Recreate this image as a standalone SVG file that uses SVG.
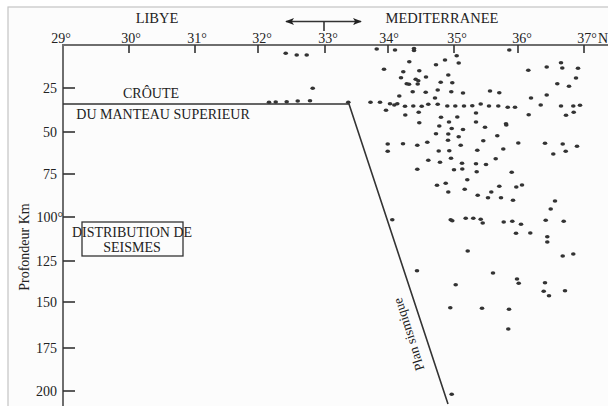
<svg xmlns="http://www.w3.org/2000/svg" xmlns:xlink="http://www.w3.org/1999/xlink" width="608" height="406" viewBox="0 0 608 406">
<style>
text{font-family:"Liberation Serif","Times New Roman",serif;fill:#222}
.t14{font-size:14px}
.t13{font-size:13.5px}
.reg{font-size:14.5px}
.ax{stroke:#6e6e6e;stroke-width:2;fill:none}
.tk{stroke:#333;stroke-width:1.6;fill:none}
.ln{stroke:#333;stroke-width:1.6;fill:none}
.d{fill:#333}
</style>
<defs>
<ellipse id="dot" cx="0" cy="0" rx="2.3" ry="1.8" class="d"/>
<marker id="ah" viewBox="0 0 10 10" refX="9" refY="5" markerWidth="9" markerHeight="9" markerUnits="userSpaceOnUse" orient="auto-start-reverse">
<path d="M0,1 L10,5 L0,9 L2.5,5 Z" fill="#222"/>
</marker>
</defs>
<rect x="0" y="0" width="608" height="406" fill="#fff"/>
<rect x="8" y="7" width="610" height="410" fill="#fcfcfc" stroke="#c4c4c4" stroke-width="1.2"/>

<g id="axes">
<line class="ax" x1="63" y1="45" x2="608" y2="45"/>
<line class="ax" x1="63" y1="44" x2="63" y2="406"/>
<g class="tk">
<line x1="129" y1="45" x2="129" y2="53"/><line x1="195" y1="45" x2="195" y2="53"/>
<line x1="258" y1="45" x2="258" y2="53"/><line x1="325" y1="45" x2="325" y2="53"/>
<line x1="388" y1="45" x2="388" y2="53"/><line x1="454" y1="45" x2="454" y2="53"/>
<line x1="518" y1="45" x2="518" y2="53"/><line x1="584" y1="45" x2="584" y2="53"/>
<line x1="63" y1="88" x2="75" y2="88"/><line x1="63" y1="132" x2="75" y2="132"/>
<line x1="63" y1="174" x2="75" y2="174"/><line x1="63" y1="217" x2="75" y2="217"/>
<line x1="63" y1="261" x2="75" y2="261"/><line x1="63" y1="302" x2="75" y2="302"/>
<line x1="63" y1="348" x2="75" y2="348"/><line x1="63" y1="391" x2="75" y2="391"/>
</g>
<g class="t14" text-anchor="middle">
<text x="61" y="43">29°</text><text x="131" y="43">30°</text><text x="197" y="43">31°</text>
<text x="262" y="43">32°</text><text x="328" y="43">33°</text><text x="389" y="43">34°</text>
<text x="457" y="43">35°</text><text x="522" y="43">36°</text><text x="587" y="43">37°</text>
<text x="603" y="43">N</text>
</g>
<g class="t14" text-anchor="end">
<text x="57" y="93">25</text><text x="57" y="137">50</text><text x="57" y="179">75</text>
<text x="63" y="222">100°</text><text x="57" y="266">125</text><text x="57" y="307">150</text>
<text x="57" y="353">175</text><text x="57" y="396">200</text>
</g>
<text class="t14" text-anchor="middle" transform="translate(29,247) rotate(-90)">Profondeur Km</text>
</g>

<g id="regions">
<text class="reg" x="157" y="23" text-anchor="middle">LIBYE</text>
<text class="reg" x="442" y="23" text-anchor="middle">MEDITERRANEE</text>
<g id="arrow">
<line class="ln" x1="286" y1="21.5" x2="361" y2="21.5" marker-start="url(#ah)" marker-end="url(#ah)"/>
<line class="ln" x1="324" y1="21.5" x2="324" y2="31"/>
</g>
</g>

<g id="crust">
<polyline class="ln" points="63,104 349,104 448,404"/>
<text class="t14" x="151" y="98" text-anchor="middle">CRÔUTE</text>
<text class="t14" x="163" y="119" text-anchor="middle">DU MANTEAU SUPERIEUR</text>
</g>

<g id="plan">
<text class="t13" text-anchor="middle" transform="translate(413,333) rotate(-107.8)">Plan sismique</text>
</g>

<g id="legend">
<rect x="82" y="222" width="101" height="34" fill="none" stroke="#333" stroke-width="1.3"/>
<text class="t14" x="132" y="237" text-anchor="middle">DISTRIBUTION DE</text>
<text class="t14" x="132" y="252" text-anchor="middle">SEISMES</text>
</g>

<g id="seismes">
<use href="#dot" x="285.7" y="53.3"/><use href="#dot" x="296.7" y="55"/><use href="#dot" x="306.7" y="55"/>
<use href="#dot" x="312.7" y="88.3"/><use href="#dot" x="269" y="102.3"/><use href="#dot" x="275.7" y="102"/>
<use href="#dot" x="286.7" y="101.7"/><use href="#dot" x="297.7" y="101"/><use href="#dot" x="310" y="100.7"/>
<use href="#dot" x="348.3" y="102.3"/>
<use href="#dot" x="376.7" y="49"/><use href="#dot" x="395" y="50"/><use href="#dot" x="414" y="48.5"/><use href="#dot" x="414" y="50.5"/>
<use href="#dot" x="456.7" y="55.7"/><use href="#dot" x="409.3" y="61.7"/><use href="#dot" x="445" y="60"/>
<use href="#dot" x="436" y="64.7"/><use href="#dot" x="458.7" y="63"/><use href="#dot" x="384" y="69.3"/>
<use href="#dot" x="403.3" y="71.7"/><use href="#dot" x="419.3" y="70.7"/><use href="#dot" x="448.3" y="75"/>
<use href="#dot" x="426" y="77"/><use href="#dot" x="401" y="77.7"/><use href="#dot" x="415.7" y="79.3"/>
<use href="#dot" x="418.3" y="80.7"/><use href="#dot" x="406.7" y="83.7"/><use href="#dot" x="409" y="84.3"/>
<use href="#dot" x="417.7" y="84"/><use href="#dot" x="440.7" y="82.3"/><use href="#dot" x="452.3" y="82.7"/>
<use href="#dot" x="412.7" y="91.7"/><use href="#dot" x="425.7" y="92.3"/><use href="#dot" x="437.7" y="90"/>
<use href="#dot" x="451.3" y="91.7"/><use href="#dot" x="463" y="93"/><use href="#dot" x="490" y="91"/>
<use href="#dot" x="399.3" y="96"/><use href="#dot" x="435" y="98"/>
<use href="#dot" x="370.5" y="102.3"/><use href="#dot" x="380" y="102.3"/><use href="#dot" x="390" y="103.7"/>
<use href="#dot" x="394.3" y="105"/><use href="#dot" x="397.3" y="103.7"/><use href="#dot" x="405" y="106.3"/>
<use href="#dot" x="413.3" y="106"/><use href="#dot" x="421.7" y="106.3"/><use href="#dot" x="428.3" y="104.3"/>
<use href="#dot" x="437.7" y="104.3"/><use href="#dot" x="447.3" y="106"/><use href="#dot" x="455.3" y="106"/>
<use href="#dot" x="464" y="106"/><use href="#dot" x="472.3" y="105.7"/><use href="#dot" x="480.7" y="104"/>
<use href="#dot" x="489" y="106"/><use href="#dot" x="498.3" y="106"/><use href="#dot" x="507.7" y="107.3"/>
<use href="#dot" x="515" y="107.3"/><use href="#dot" x="540.7" y="105"/><use href="#dot" x="561" y="106"/>
<use href="#dot" x="573.3" y="106"/><use href="#dot" x="580" y="105.3"/>
<use href="#dot" x="386" y="110.3"/><use href="#dot" x="418.7" y="112.3"/><use href="#dot" x="476" y="113"/>
<use href="#dot" x="405.3" y="115"/><use href="#dot" x="441" y="117.3"/><use href="#dot" x="457.3" y="117"/>
<use href="#dot" x="419.3" y="122.7"/><use href="#dot" x="449" y="122"/><use href="#dot" x="476" y="122"/>
<use href="#dot" x="439.3" y="126"/><use href="#dot" x="451.7" y="128.5"/><use href="#dot" x="463" y="129.5"/>
<use href="#dot" x="506" y="123.7"/><use href="#dot" x="485" y="127.3"/><use href="#dot" x="528.7" y="114.7"/>
<use href="#dot" x="566" y="115.3"/><use href="#dot" x="573.7" y="112.3"/>
<use href="#dot" x="509.3" y="50"/><use href="#dot" x="561" y="62.7"/><use href="#dot" x="546.7" y="67"/>
<use href="#dot" x="562.3" y="68"/><use href="#dot" x="578" y="68.3"/><use href="#dot" x="528.3" y="70.3"/>
<use href="#dot" x="576" y="78"/><use href="#dot" x="557.3" y="83.7"/><use href="#dot" x="569" y="86.3"/>
<use href="#dot" x="499.3" y="92.7"/><use href="#dot" x="546.7" y="95"/><use href="#dot" x="531" y="98"/>
<use href="#dot" x="436" y="133.7"/><use href="#dot" x="448.3" y="134"/><use href="#dot" x="458.7" y="136.7"/>
<use href="#dot" x="448" y="140.3"/><use href="#dot" x="483.3" y="140.7"/><use href="#dot" x="387.7" y="144"/>
<use href="#dot" x="403" y="143.7"/><use href="#dot" x="417.3" y="145.3"/><use href="#dot" x="427.3" y="142.3"/>
<use href="#dot" x="460.7" y="145.3"/><use href="#dot" x="387.7" y="151.3"/><use href="#dot" x="438.7" y="151"/>
<use href="#dot" x="449.3" y="150.7"/><use href="#dot" x="477.3" y="150.3"/><use href="#dot" x="451" y="158.3"/>
<use href="#dot" x="428.3" y="160.3"/><use href="#dot" x="440" y="162.3"/><use href="#dot" x="462" y="163.3"/>
<use href="#dot" x="476" y="163.7"/><use href="#dot" x="486" y="164.5"/><use href="#dot" x="417.3" y="169.3"/>
<use href="#dot" x="454" y="169.7"/><use href="#dot" x="462.3" y="169"/><use href="#dot" x="476.7" y="171.7"/>
<use href="#dot" x="467.3" y="179.7"/><use href="#dot" x="445.7" y="183.3"/><use href="#dot" x="437" y="185.3"/>
<use href="#dot" x="464.7" y="189.3"/><use href="#dot" x="448.3" y="192"/><use href="#dot" x="477.7" y="195.3"/>
<use href="#dot" x="488" y="197.7"/>
<use href="#dot" x="506.3" y="125"/><use href="#dot" x="497.3" y="135.7"/><use href="#dot" x="518.3" y="143"/>
<use href="#dot" x="545" y="143.3"/><use href="#dot" x="562.7" y="144"/><use href="#dot" x="577" y="146.3"/>
<use href="#dot" x="503.3" y="149"/><use href="#dot" x="553.3" y="154"/><use href="#dot" x="565.7" y="151.3"/>
<use href="#dot" x="495.7" y="158.7"/><use href="#dot" x="511.7" y="172.3"/><use href="#dot" x="499.3" y="186.3"/>
<use href="#dot" x="516.3" y="187"/><use href="#dot" x="522" y="185"/><use href="#dot" x="491.3" y="192"/>
<use href="#dot" x="501" y="197.7"/><use href="#dot" x="513" y="200.3"/><use href="#dot" x="555" y="201"/>
<use href="#dot" x="550.7" y="209"/>
<use href="#dot" x="392.3" y="219.7"/><use href="#dot" x="450.7" y="219.7"/><use href="#dot" x="452.3" y="220.7"/>
<use href="#dot" x="465.7" y="218.3"/><use href="#dot" x="473.3" y="218.3"/><use href="#dot" x="480.7" y="219.3"/>
<use href="#dot" x="482.7" y="223"/><use href="#dot" x="503.7" y="222"/><use href="#dot" x="512.3" y="221.3"/>
<use href="#dot" x="521" y="224.3"/><use href="#dot" x="545.7" y="220.3"/><use href="#dot" x="563.7" y="221.3"/>
<use href="#dot" x="516" y="233.3"/><use href="#dot" x="530.3" y="233"/><use href="#dot" x="547.3" y="236.7"/>
<use href="#dot" x="547.3" y="242"/><use href="#dot" x="467.7" y="251"/><use href="#dot" x="562.7" y="256"/>
<use href="#dot" x="573.3" y="254"/><use href="#dot" x="417" y="270.7"/><use href="#dot" x="493" y="273"/>
<use href="#dot" x="517" y="279"/><use href="#dot" x="518.7" y="283.3"/><use href="#dot" x="545" y="282.7"/>
<use href="#dot" x="455.7" y="284.7"/><use href="#dot" x="543.7" y="291.3"/><use href="#dot" x="549" y="295.7"/>
<use href="#dot" x="565" y="290.7"/><use href="#dot" x="450.3" y="307.7"/><use href="#dot" x="482" y="308.3"/>
<use href="#dot" x="509" y="309.3"/><use href="#dot" x="508.3" y="329"/><use href="#dot" x="451.7" y="394.3"/>
</g>
</svg>
